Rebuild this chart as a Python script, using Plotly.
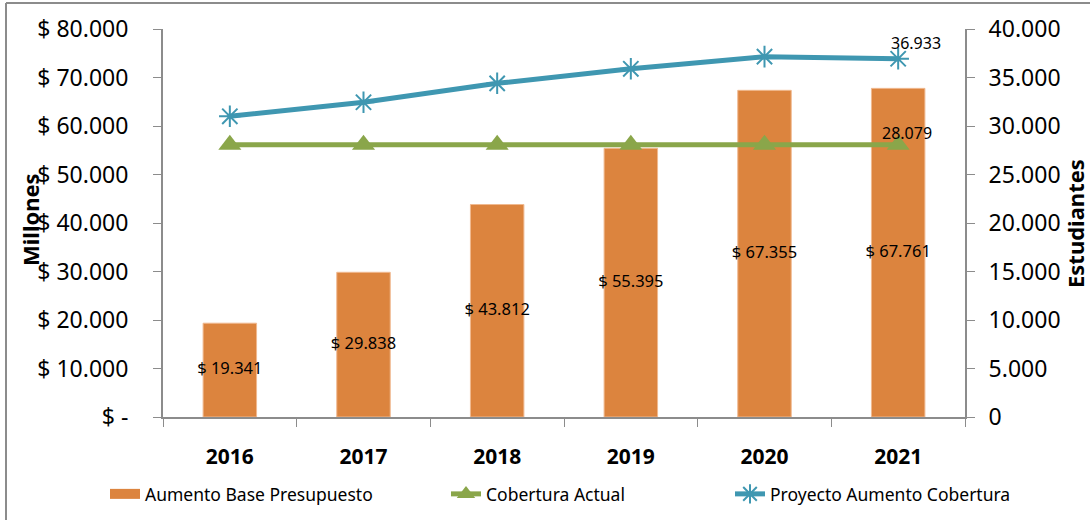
import plotly.graph_objects as go

# chart data
years = ["2016", "2017", "2018", "2019", "2020", "2021"]
presupuesto = [19341, 29838, 43812, 55395, 67355, 67761]
cobertura_actual = [28079, 28079, 28079, 28079, 28079, 28079]
proyecto_cobertura = [31000, 32450, 34400, 35900, 37150, 36933]

left_ticks = [0, 10000, 20000, 30000, 40000, 50000, 60000, 70000, 80000]
left_labels = ["$ -", "$ 10.000", "$ 20.000", "$ 30.000", "$ 40.000",
               "$ 50.000", "$ 60.000", "$ 70.000", "$ 80.000"]
right_ticks = [0, 5000, 10000, 15000, 20000, 25000, 30000, 35000, 40000]
right_labels = ["0", "5.000", "10.000", "15.000", "20.000",
                "25.000", "30.000", "35.000", "40.000"]

FONT = "Noto Sans"
ORANGE = "#DC843E"
GREEN = "#8AA64A"
BLUE = "#3F97B1"
AXIS = "#8C8C8C"

W, H = 1090, 520
# plot area in page pixels
PX0, PW = 163, 802
PY0, PH = 29, 388


def px(p):
    return (p - PX0) / PW


def py(p):
    return 1 - (p - PY0) / PH


def fmt_money(v):
    return "$ " + f"{v:,}".replace(",", ".")


def fmt_num(v):
    return f"{v:,}".replace(",", ".")


fig = go.Figure()

fig.add_trace(go.Bar(
    x=years, y=presupuesto, name="Aumento Base Presupuesto",
    marker=dict(color=ORANGE, line=dict(color="#F0B98F", width=1)),
    width=0.4, yaxis="y", showlegend=False,
))

# wide legend swatch for the bars
fig.add_trace(go.Scatter(
    x=[None], y=[None], mode="lines", name="Aumento Base Presupuesto",
    line=dict(color=ORANGE, width=12), legend="legend",
))

# bar labels centred in each bar
fig.add_trace(go.Scatter(
    x=years, y=[v / 2 for v in presupuesto], mode="text",
    text=[fmt_money(v) for v in presupuesto],
    textfont=dict(family=FONT, size=16.5, color="black"),
    showlegend=False, hoverinfo="skip", yaxis="y",
))

fig.add_trace(go.Scatter(
    x=years, y=cobertura_actual, name="Cobertura Actual",
    mode="lines+markers",
    line=dict(color=GREEN, width=5),
    marker=dict(symbol="triangle-up", size=20, color=GREEN),
    yaxis="y2", legend="legend2",
))

fig.add_trace(go.Scatter(
    x=years, y=proyecto_cobertura, name="Proyecto Aumento Cobertura",
    mode="lines+markers",
    line=dict(color=BLUE, width=5),
    marker=dict(symbol="asterisk-open", size=18, color=BLUE,
                line=dict(color=BLUE, width=2)),
    yaxis="y2", legend="legend3",
))

legend_font = dict(family=FONT, size=17.5, color="black")
last = len(years) - 1

fig.update_layout(
    width=W,
    height=H,
    margin=dict(l=163, r=125, t=29, b=103, autoexpand=False),
    plot_bgcolor="white",
    paper_bgcolor="white",
    font=dict(family=FONT, color="black"),
    xaxis=dict(
        type="category", range=[-0.5, 5.5],
        showline=True, linecolor=AXIS, linewidth=2,
        ticks="outside", tickson="boundaries", ticklen=8, tickcolor=AXIS,
        tickfont=dict(family=FONT, size=21, color="black", weight="bold"),
        ticklabelstandoff=20,
        showgrid=False,
    ),
    yaxis=dict(
        range=[0, 80000], tickvals=left_ticks, ticktext=left_labels,
        showline=True, linecolor=AXIS, linewidth=2,
        ticks="outside", ticklen=8, tickcolor=AXIS,
        tickfont=dict(family=FONT, size=23, color="black"),
        ticklabelstandoff=20,
        showgrid=False, zeroline=False,
    ),
    yaxis2=dict(
        range=[0, 40000], tickvals=right_ticks, ticktext=right_labels,
        overlaying="y", side="right",
        showline=True, linecolor=AXIS, linewidth=2,
        ticks="outside", ticklen=8, tickcolor=AXIS,
        tickfont=dict(family=FONT, size=23, color="black"),
        ticklabelstandoff=9,
        showgrid=False, zeroline=False,
    ),
    legend=dict(x=px(147 - 42), y=py(494), xanchor="left", yanchor="middle",
                font=legend_font),
    legend2=dict(x=px(488 - 42), y=py(494), xanchor="left", yanchor="middle",
                 font=legend_font),
    legend3=dict(x=px(772 - 42), y=py(494), xanchor="left", yanchor="middle",
                 font=legend_font),
    showlegend=True,
    annotations=[
        dict(text="<b>Millones</b>", xref="paper", yref="paper",
             x=px(30), y=py(220), xanchor="center", yanchor="middle",
             textangle=-90, showarrow=False,
             font=dict(family=FONT, size=22, color="black")),
        dict(text="<b>Estudiantes</b>", xref="paper", yref="paper",
             x=px(1075), y=py(224), xanchor="center", yanchor="middle",
             textangle=-90, showarrow=False,
             font=dict(family=FONT, size=22, color="black")),
        # value labels on the last points of the lines
        dict(text=fmt_num(proyecto_cobertura[last]), x=last,
             y=proyecto_cobertura[last], xref="x", yref="y2",
             xshift=18, yshift=16, showarrow=False,
             font=dict(family=FONT, size=16, color="black")),
        dict(text=fmt_num(cobertura_actual[last]), x=last,
             y=cobertura_actual[last], xref="x", yref="y2",
             xshift=9, yshift=12, showarrow=False,
             font=dict(family=FONT, size=16, color="black")),
    ],
    shapes=[
        # outer chart frame (left and top edges visible)
        dict(type="line", xref="paper", yref="paper",
             x0=px(6), x1=px(6), y0=py(3), y1=py(530),
             line=dict(color=AXIS, width=2)),
        dict(type="line", xref="paper", yref="paper",
             x0=px(6), x1=px(1100), y0=py(3), y1=py(3),
             line=dict(color=AXIS, width=2)),
    ],
)

fig.write_html("out.html", config={"displayModeBar": False},
               post_script="document.body.style.margin='0';")
